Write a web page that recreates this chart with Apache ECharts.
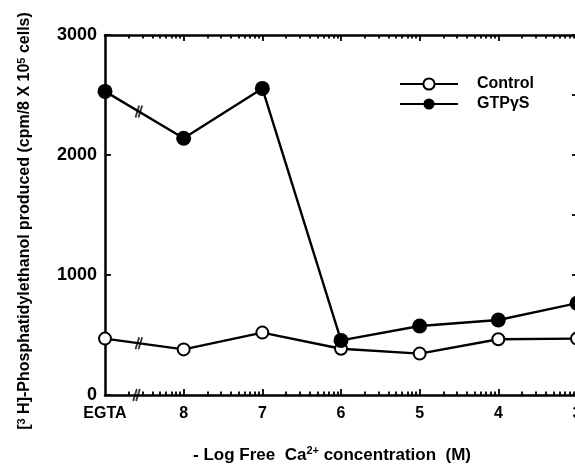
<!DOCTYPE html>
<html>
<head>
<meta charset="utf-8">
<script src="https://cdn.jsdelivr.net/npm/echarts@6/dist/echarts.min.js"></script>
<style>
  html, body { margin: 0; padding: 0; background: #fff; }
  #chart { width: 575px; height: 466px; }
</style>
</head>
<body>
<div id="chart"></div>
<script>
// x positions on the -log[Ca2+] axis; 9 is where the EGTA (no calcium) point sits
var xPositions = [9, 8, 7, 6, 5, 4, 3];
var xTickLabels = ['EGTA', '8', '7', '6', '5', '4', '3'];
var controlValues = [470, 380, 520, 385, 345, 465, 470];
var gtpValues = [2530, 2140, 2555, 455, 575, 625, 765];
var yTickLabels = ['0', '1000', '2000', '3000'];

var FONT = '"Liberation Sans", Arial, Helvetica, sans-serif';
var breakX = 8.57;

function pairs(xs, ys) {
  return xs.map(function (x, i) { return [x, ys[i]]; });
}
// point on the first segment (EGTA -> 8) where the axis-break mark is drawn
function onFirstSegment(ys) {
  var t = (xPositions[0] - breakX) / (xPositions[0] - xPositions[1]);
  return [breakX, ys[0] + t * (ys[1] - ys[0])];
}

// log-decade minor ticks between whole -log units
var majorTicks = [8, 7, 6, 5, 4];
var minorTicks = [];
for (var d = 9; d > 3; d--) {
  for (var k = 2; k <= 9; k++) minorTicks.push(d - Math.log10(k));
}

var axisLineStyle = { color: '#000', width: 2.5 };

function xAxisDef(position, ticks, len, showLine, showLabel) {
  return {
    type: 'value', min: 3, max: 9, inverse: true, position: position,
    axisLine: { show: showLine, onZero: false, lineStyle: axisLineStyle },
    axisTick: { show: true, inside: true, length: len, customValues: ticks,
                lineStyle: { color: '#000', width: 1.8 } },
    axisLabel: {
      show: showLabel, customValues: xPositions, margin: 11,
      color: '#000', fontFamily: FONT, fontWeight: 'bold', fontSize: 16,
      formatter: function (v) { return xTickLabels[xPositions.indexOf(v)]; }
    },
    splitLine: { show: false }
  };
}

var chart = echarts.init(document.getElementById('chart'), null, { renderer: 'canvas' });
chart.setOption({
  animation: false,
  backgroundColor: '#fff',
  grid: { left: 105, right: -2, top: 35, bottom: 71, outerBoundsMode: 'none' },
  xAxis: [
    xAxisDef('bottom', majorTicks, 6, true, true),
    xAxisDef('bottom', minorTicks, 3.5, false, false),
    xAxisDef('top', majorTicks, 6, true, false),
    xAxisDef('top', minorTicks, 3.5, false, false)
  ],
  yAxis: [
    {
      type: 'value', min: 0, max: 3000, interval: 1000, position: 'left',
      axisLine: { show: true, lineStyle: axisLineStyle },
      axisTick: { show: true, inside: true, length: 6, lineStyle: { color: '#000', width: 1.8 } },
      axisLabel: { color: '#000', fontFamily: FONT, fontWeight: 'bold', fontSize: 18, margin: 8,
                   formatter: function (v) { return yTickLabels[v / 1000]; } },
      splitLine: { show: false }
    },
    {
      type: 'value', min: 0, max: 3000, interval: 500, position: 'right',
      axisLine: { show: true, lineStyle: axisLineStyle },
      axisTick: { show: true, inside: true, length: 5, lineStyle: { color: '#000', width: 1.8 } },
      axisLabel: { show: false },
      splitLine: { show: false }
    }
  ],
  legend: {
    data: ['Control', 'GTP\u03b3S'],
    orient: 'vertical', left: 394, top: 71,
    itemWidth: 58, itemHeight: 14, itemGap: 4,
    textStyle: { color: '#000', fontFamily: FONT, fontWeight: 'bold', fontSize: 16, padding: [0, 0, 0, 14] }
  },
  series: [
    {
      name: 'Control', type: 'line', xAxisIndex: 0, yAxisIndex: 0,
      data: pairs(xPositions, controlValues),
      symbol: 'emptyCircle', symbolSize: 12,
      itemStyle: { color: '#000', borderColor: '#000', borderWidth: 2.2 },
      lineStyle: { color: '#000', width: 2.4 },
      z: 2
    },
    {
      name: 'GTP\u03b3S', type: 'line', xAxisIndex: 0, yAxisIndex: 0,
      data: pairs(xPositions, gtpValues),
      symbol: 'circle', symbolSize: 15,
      itemStyle: { color: '#000' },
      lineStyle: { color: '#000', width: 2.4 },
      z: 3
    },
    {
      // "//" break marks on both curves and on the x axis
      name: 'breaks', type: 'scatter', xAxisIndex: 0, yAxisIndex: 0,
      data: [onFirstSegment(controlValues), onFirstSegment(gtpValues), [breakX + 0.03, 0]],
      symbol: 'path://M0,12 L5,0 M4,12 L9,0',
      symbolSize: [9, 12], symbolKeepAspect: true,
      itemStyle: { color: 'rgba(0,0,0,0)', borderColor: '#000', borderWidth: 2 },
      clip: false, silent: true, z: 4
    }
  ],
  graphic: [
    {
      type: 'text', x: 25, y: 221, rotation: Math.PI / 2,
      style: {
        text: '[{sup|3} H]-Phosphatidylethanol produced (cpm/8 X 10{sup|5} cells)',
        fill: '#000', font: 'bold 16px ' + FONT,
        align: 'center', verticalAlign: 'middle',
        rich: { sup: { fontSize: 11, fontWeight: 'bold', fontFamily: FONT, verticalAlign: 'top', padding: [0, 0, 7, 0] } }
      }
    },
    {
      type: 'text', x: 332, y: 455,
      style: {
        text: '- Log Free  Ca{sup|2+} concentration  (M)',
        fill: '#000', font: 'bold 17px ' + FONT,
        align: 'center', verticalAlign: 'middle',
        rich: { sup: { fontSize: 11, fontWeight: 'bold', fontFamily: FONT, verticalAlign: 'top', padding: [0, 0, 8, 0] } }
      }
    }
  ]
});
</script>
</body>
</html>
